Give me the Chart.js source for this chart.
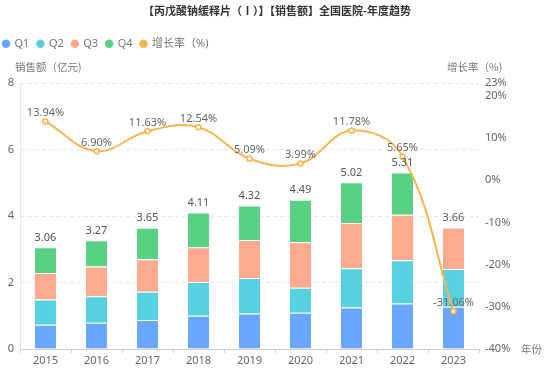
<!DOCTYPE html>
<html><head><meta charset="utf-8">
<script src="https://cdn.jsdelivr.net/npm/chart.js@4"></script>
<style>html,body{margin:0;padding:0;background:#fff}#wrap{width:554px;height:372px;position:relative}</style>
</head><body><div id="wrap"><canvas id="c"></canvas></div>
<script>
const years = ['2015','2016','2017','2018','2019','2020','2021','2022','2023'];
const q1 = [0.73,0.79,0.87,1.00,1.07,1.09,1.25,1.37,1.27];
const q2 = [0.76,0.80,0.85,1.02,1.07,0.75,1.18,1.30,1.14];
const q3 = [0.80,0.89,0.98,1.04,1.14,1.37,1.36,1.37,1.25];
const q4 = [0.77,0.79,0.95,1.05,1.04,1.28,1.23,1.27,null];
const totals = [3.06,3.27,3.65,4.11,4.32,4.49,5.02,5.31,3.66];
const growth = [13.94,6.90,11.63,12.54,5.09,3.99,11.78,5.65,-31.06];
const leftTicks = [0,2,4,6,8];
const rightTicks = [-40,-30,-20,-10,0,10,20,23];

const FONT = '"Noto Sans", "Noto Sans CJK SC", sans-serif';
const CJK = '"Noto Sans CJK SC", "Noto Sans", sans-serif';

const labelPlugin = {
  id: 'labels',
  beforeInit(chart) {
    const lg = chart.legend;
    if (lg) {
      const orig = lg.fit;
      lg.fit = function () { orig.call(this); this.height += 24; };
    }
  },
  afterLayout(chart) {
    if (chart.legend) { chart.legend.left -= 5; chart.legend.right -= 5; }
  },
  afterDatasetsDraw(chart) {
    const ctx = chart.ctx;
    const x = chart.scales.x, y = chart.scales.y, y1 = chart.scales.y1;
    ctx.save();
    ctx.textAlign = 'center';
    ctx.textBaseline = 'bottom';
    ctx.font = '11px ' + FONT;
    ctx.fillStyle = '#555';
    totals.forEach((t, i) => {
      ctx.fillText(t.toFixed(2), x.getPixelForValue(i), y.getPixelForValue(t) - 4);
    });
    ctx.fillStyle = '#666';
    growth.forEach((g, i) => {
      ctx.fillText(g.toFixed(2) + '%', x.getPixelForValue(i), y1.getPixelForValue(g) - 3);
    });
    ctx.font = '10.5px ' + CJK;
    ctx.fillStyle = '#777';
    ctx.textBaseline = 'middle';
    ctx.textAlign = 'left';
    ctx.fillText('销售额（亿元)', 15, 67);
    ctx.fillText('增长率（%)', 447, 67);
    ctx.fillText('年份', chart.chartArea.right + 42, chart.chartArea.bottom);
    ctx.restore();
  }
};

const barBase = { type: 'bar', stack: 's', yAxisID: 'y', order: 1, barPercentage: 0.9, categoryPercentage: 0.5,
  borderWidth: 1, borderColor: 'rgba(255,255,255,0.55)' };

new Chart(document.getElementById('c'), {
  data: {
    labels: years,
    datasets: [
      Object.assign({ label: 'Q1', data: q1, backgroundColor: '#6aa6ff' }, barBase),
      Object.assign({ label: 'Q2', data: q2, backgroundColor: '#57d0df' }, barBase),
      Object.assign({ label: 'Q3', data: q3, backgroundColor: '#fdab8f' }, barBase),
      Object.assign({ label: 'Q4', data: q4, backgroundColor: '#58d184' }, barBase),
      { type: 'line', label: '增长率（%)', data: growth, yAxisID: 'y1', order: 0,
        borderColor: '#fbb450', backgroundColor: '#fbb450', borderWidth: 2, tension: 0.4,
        pointRadius: 2.5, pointBorderWidth: 1.5, pointBackgroundColor: '#fff', pointBorderColor: '#fbb450',
        pointStyle: 'circle' }
    ]
  },
  options: {
    responsive: true,
    maintainAspectRatio: false,
    animation: false,
    layout: { padding: { top: 4, left: 0, right: 0, bottom: 0 } },
    plugins: {
      title: { display: true, text: '【丙戊酸钠缓释片（Ⅰ）】【销售额】全国医院-年度趋势',
        color: '#333', font: { family: CJK, size: 11, weight: 'bold' }, padding: { top: 0, bottom: 13 } },
      legend: { position: 'top', align: 'start',
        labels: { usePointStyle: true, pointStyle: 'circle', boxWidth: 6, boxHeight: 6, padding: 8,
          color: '#777', font: { family: FONT, size: 11 },
          sort: (a, b) => a.datasetIndex - b.datasetIndex,
          generateLabels(chart) {
            const items = Chart.defaults.plugins.legend.labels.generateLabels(chart);
            items.forEach(it => { const ds = chart.data.datasets[it.datasetIndex];
              it.fillStyle = ds.type === 'line' ? ds.borderColor : ds.backgroundColor;
              it.strokeStyle = it.fillStyle; it.pointStyle = 'circle'; it.lineWidth = 0; });
            return items;
          } } },
      tooltip: { enabled: false }
    },
    scales: {
      x: {
        grid: { display: true, drawOnChartArea: false, drawTicks: true, tickLength: 4, color: '#ccc', offset: true },
        border: { display: true, color: '#ccc' },
        ticks: { color: '#666', font: { family: FONT, size: 11 }, padding: 1 },
        afterFit(s) { s.height = 23; }
      },
      y: {
        position: 'left', min: 0, max: 8,
        afterBuildTicks(s) { s.ticks = leftTicks.map(v => ({ value: v })); },
        grid: { color: ctx => ctx.tick && ctx.tick.value === 0 ? 'rgba(0,0,0,0)' : '#e3e7f0', drawTicks: false },
        border: { display: true, color: '#e6e9ee', dash: [4, 3] },
        ticks: { color: '#666', font: { family: FONT, size: 11 }, padding: 6 },
        afterFit(s) { s.width = 20; }
      },
      y1: {
        position: 'right', min: -40, max: 23,
        afterBuildTicks(s) { s.ticks = rightTicks.map(v => ({ value: v })); },
        grid: { drawOnChartArea: false, drawTicks: false },
        border: { display: false },
        ticks: { color: '#666', font: { family: FONT, size: 11 }, padding: 6, callback: v => v + '%' },
        afterFit(s) { s.width = 75; }
      }
    }
  },
  plugins: [labelPlugin]
});
</script>
</body></html>
